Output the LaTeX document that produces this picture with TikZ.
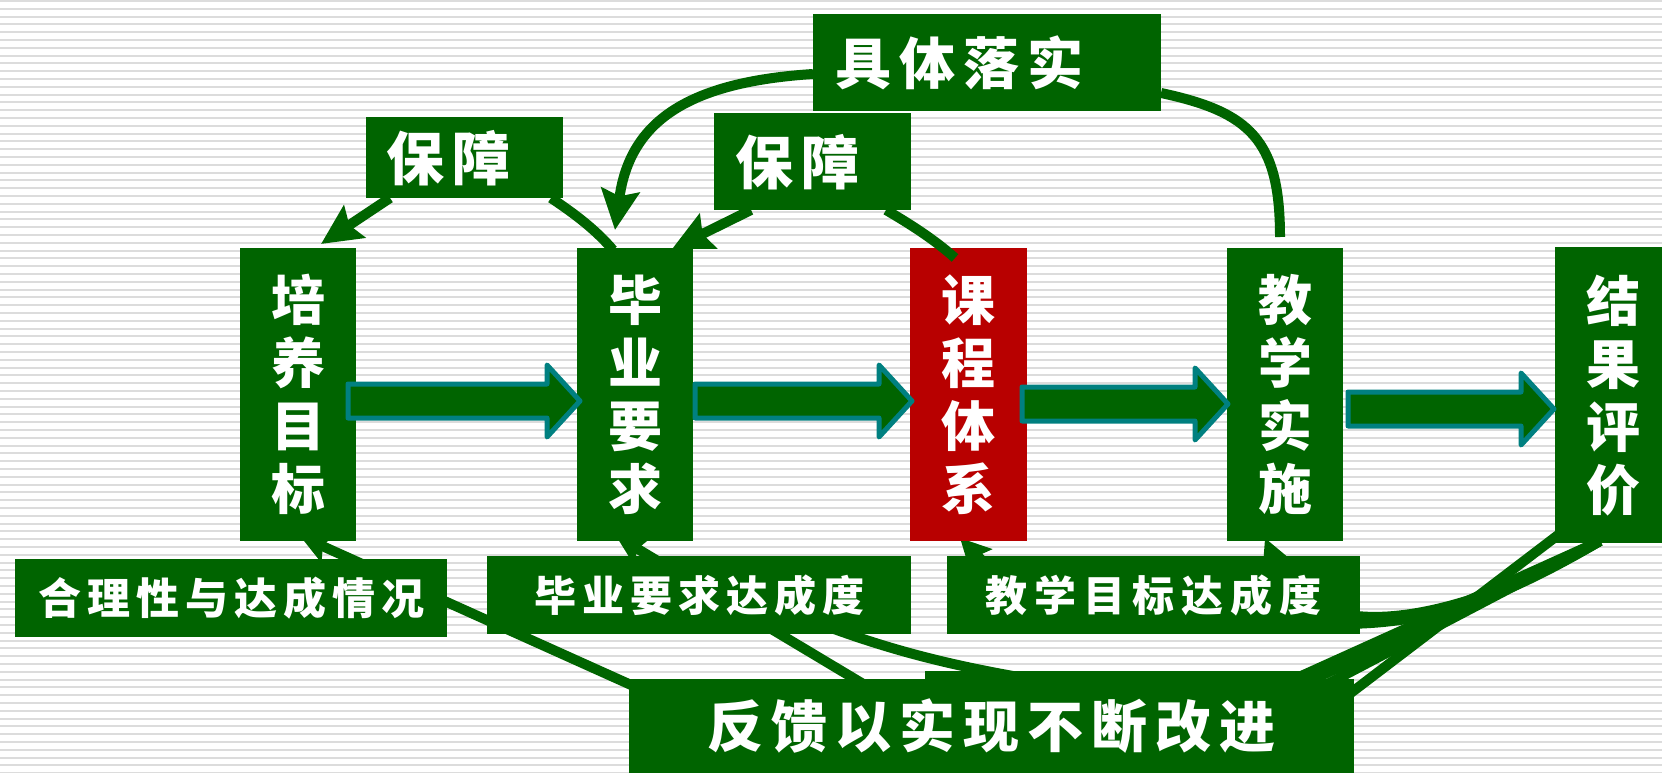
\documentclass[tikz,border=0pt]{standalone}
\usepackage{fontspec}
\newfontfamily\cjk{Noto Sans CJK SC}
\usetikzlibrary{arrows.meta}
\definecolor{dg}{RGB}{0,100,0}
\definecolor{rd}{RGB}{184,0,0}
\definecolor{tl}{RGB}{0,128,128}
\definecolor{stripe}{RGB}{220,220,220}
\tikzset{
  box/.style={fill=dg, inner sep=0pt, anchor=north west, text=white},
  vbox/.style={box, minimum width=116pt, minimum height=293pt, align=center,
    font=\cjk\bfseries\fontsize{54}{63}\selectfont},
  tA/.style={font=\cjk\bfseries\fontsize{58}{58}\selectfont},
  tB/.style={font=\cjk\bfseries\fontsize{56}{56}\selectfont},
  tC/.style={font=\cjk\bfseries\fontsize{43}{43}\selectfont},
  tD/.style={font=\cjk\bfseries\fontsize{42}{42}\selectfont},
  conn/.style={dg, line width=10pt},
  bigtip/.style={-{Stealth[length=40pt,width=38pt,inset=6pt]}},
  smalltip/.style={-{Stealth[length=30pt,width=30pt,inset=5pt]}},
  barrowst/.style={fill=dg, draw=tl, line width=5pt, line join=round},
}
\newcommand\blockarrow[4]{\draw[barrowst] (#1,#4-17) -- (#2,#4-17) -- (#2,#4-36) -- (#3,#4) -- (#2,#4+36) -- (#2,#4+17) -- (#1,#4+17) -- cycle;}
\begin{document}
\begin{tikzpicture}[x=1pt,y=-1pt]
\useasboundingbox (0,0) rectangle (1662,773);
\clip (0,0) rectangle (1662,773);
\fill[white] (0,0) rectangle (1662,773);
\foreach \i in {0,...,99} \draw[stripe, line width=2pt] (0,1+7.8*\i) -- (1662,1+7.8*\i);

% feedback connectors (behind the boxes)
\coordinate (o1) at (1562,532);
\coordinate (o2) at (1600,541);
\coordinate (fa) at (1335,705);
\coordinate (f1) at (1248,700);
\coordinate (f2) at (1271,700);
\coordinate (f3) at (1297,700);
\coordinate (fpy) at (720,725);
\coordinate (fby) at (890,700);
\coordinate (fc) at (1100,690);
\coordinate (cc) at (760,600);
\coordinate (tpy) at (300,536);
\coordinate (tby) at (616,536);
\coordinate (tkc) at (960,538);
\coordinate (tjx) at (1265,538);
\draw[conn] (o1) -- (fa);
\draw[conn] (o2) -- (f1);
\draw[conn] (o2) -- (f2);
\draw[conn] (o2) -- (f3);
\draw[conn, smalltip] (o2) .. controls (1500,600) and (1430,624) .. (1340,624) .. controls (1100,622) and (1020,600) .. (tkc);
\draw[conn, smalltip] (o2) .. controls (1500,600) and (1320,668) .. (tjx);
\draw[conn, smalltip] (fpy) -- (tpy);
\draw[conn, smalltip] (fby) -- (tby);
\draw[conn] (cc) .. controls (880,650) and (950,668) .. (fc);

% main boxes
\node[vbox] (pymb) at (240,248) {培\\养\\目\\标};
\node[vbox] (byyq) at (577,248) {毕\\业\\要\\求};
\node[vbox, fill=rd, minimum width=117pt] (kctx) at (910,248) {课\\程\\体\\系};
\node[vbox] (jxss) at (1227,248) {教\\学\\实\\施};
\node[vbox, minimum width=117pt, minimum height=296pt] (jgpj) at (1555,247) {结\\果\\评\\价};

% label boxes
\node[box, tA, minimum width=197pt, minimum height=81pt] (bz1) at (366,117) {保\hspace{8pt}障\hspace*{32pt}};
\node[box, tA, minimum width=197pt, minimum height=97pt] (bz2) at (714,113) {保\hspace{8pt}障\hspace*{30pt}};
\node[box, tB, minimum width=348pt, minimum height=97pt] (jtls) at (813,14) {具\hspace{8pt}体\hspace{8pt}落\hspace{8pt}实\hspace*{56pt}};
\node[box, tC, minimum width=432pt, minimum height=78pt] (hlx) at (15,559) {合\hspace{6pt}理\hspace{6pt}性\hspace{6pt}与\hspace{6pt}达\hspace{6pt}成\hspace{6pt}情\hspace{6pt}况};
\node[box, tD, minimum width=424pt, minimum height=78pt] (bydc) at (487,556) {毕\hspace{6pt}业\hspace{6pt}要\hspace{6pt}求\hspace{6pt}达\hspace{6pt}成\hspace{6pt}度};
\node[box, tD, minimum width=413pt, minimum height=78pt] (jxdc) at (947,556) {教\hspace{7pt}学\hspace{7pt}目\hspace{7pt}标\hspace{7pt}达\hspace{7pt}成\hspace{7pt}度};
\fill[dg] (925,671) rectangle (1304,681);
\node[box, tB, minimum width=725pt, minimum height=94pt] (fk) at (629,679) {反\hspace{8pt}馈\hspace{8pt}以\hspace{8pt}实\hspace{8pt}现\hspace{8pt}不\hspace{8pt}断\hspace{8pt}改\hspace{8pt}进};

% block arrows
\blockarrow{348}{547}{580}{401}
\blockarrow{695}{879}{912}{401}
\blockarrow{1022}{1195}{1228}{404}
\blockarrow{1348}{1521}{1554}{409}

% top connectors
\coordinate (s1) at (390,198);
\coordinate (e1) at (321,244);
\coordinate (s2) at (551,198);
\coordinate (e2) at (613,250);
\coordinate (s3) at (751,210);
\coordinate (e3) at (672,249);
\coordinate (s4) at (886,210);
\coordinate (e4) at (955,258);
\coordinate (s5) at (813,74);
\coordinate (e5) at (615,230);
\coordinate (s6) at (1161,93);
\coordinate (e6) at (1280,237);
\draw[conn, bigtip] (s1) -- (e1);
\draw[conn] (s2) .. controls (575,214) and (596,230) .. (e2);
\draw[conn, bigtip] (s3) -- (e3);
\draw[conn] (s4) .. controls (910,224) and (935,240) .. (e4);
\draw[conn, bigtip] (s5) .. controls (690,82) and (630,120) .. (e5);
\draw[conn] (s6) .. controls (1250,112) and (1280,140) .. (e6);
\end{tikzpicture}
\end{document}
